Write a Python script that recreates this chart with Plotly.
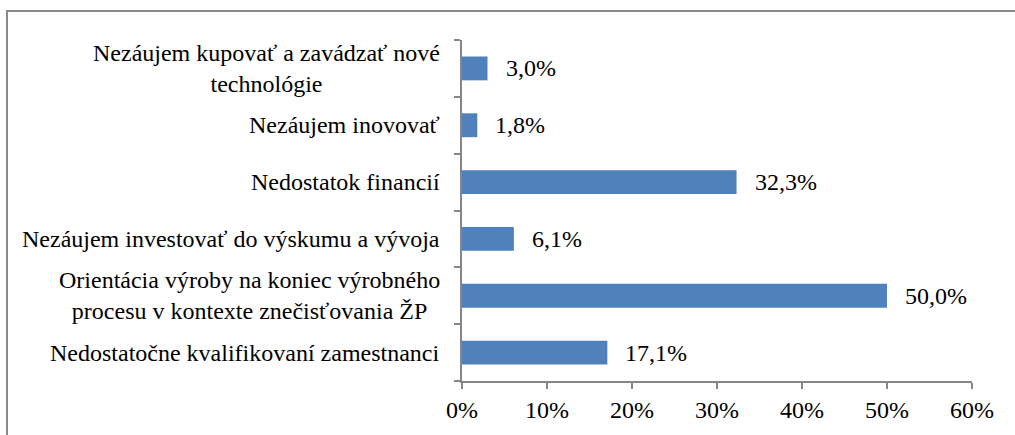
import plotly.graph_objects as go

categories = [
    "Nedostatočne kvalifikovaní zamestnanci",
    "Orientácia výroby na koniec výrobného<br>procesu v kontexte znečisťovania ŽP",
    "Nezáujem investovať do výskumu a vývoja",
    "Nedostatok financií",
    "Nezáujem inovovať",
    "Nezáujem kupovať a zavádzať nové<br>technológie",
]
values = [17.1, 50.0, 6.1, 32.3, 1.8, 3.0]
value_labels = ["17,1%", "50,0%", "6,1%", "32,3%", "1,8%", "3,0%"]
tick_vals = [0, 10, 20, 30, 40, 50, 60]
tick_text = ["0%", "10%", "20%", "30%", "40%", "50%", "60%"]

FONT = "'Liberation Serif', 'Times New Roman', serif"
FS = 24
AX = "#868686"

W, H = 1015, 435
ML, MR, MT, MB = 462, 43, 40, 49
PW, PH = W - ML - MR, H - MT - MB

fig = go.Figure(go.Bar(
    y=categories, x=values, orientation="h",
    marker=dict(color="#4F81BD", line=dict(width=0)),
    hoverinfo="skip",
))

annotations = []
for c, v, t in zip(categories, values, value_labels):
    annotations.append(dict(x=v, y=c, xref="x", yref="y", text=t, showarrow=False,
                            xanchor="left", xshift=16, font=dict(family=FONT, size=FS, color="black")))
    annotations.append(dict(x=0, y=c, xref="paper", yref="y", text=c, showarrow=False,
                            xanchor="right", align="center", xshift=-20,
                            font=dict(family=FONT, size=FS, color="black")))

fig.update_layout(
    width=W, height=H,
    margin=dict(l=ML, r=MR, t=MT, b=MB),
    paper_bgcolor="white", plot_bgcolor="white",
    bargap=0.58,
    showlegend=False,
    font=dict(family=FONT, size=FS, color="black"),
    xaxis=dict(range=[0, 60], tickvals=tick_vals, ticktext=tick_text,
               showgrid=False, zeroline=False, showline=True, linecolor=AX, linewidth=1.5,
               ticks="outside", ticklen=6, tickcolor=AX, tickwidth=1.5,
               tickfont=dict(family=FONT, size=FS, color="black")),
    yaxis=dict(type="category", showgrid=False, zeroline=False, showline=True, linecolor=AX, linewidth=1.5,
               ticks="outside", ticklen=6, tickcolor=AX, tickwidth=1.5, tickson="boundaries",
               showticklabels=False, range=[-0.5, 5.5]),
    annotations=annotations,
    shapes=[dict(type="rect", xref="paper", yref="paper",
                 x0=(7 - ML) / PW, x1=1.2, y0=-0.3, y1=1 + (MT - 10.5) / PH,
                 line=dict(color="#8a8a8a", width=2), fillcolor="rgba(0,0,0,0)", layer="below")],
)

fig.write_html("out.html", config={"displayModeBar": False},
               post_script="document.body.style.margin='0';document.body.style.padding='0';")
